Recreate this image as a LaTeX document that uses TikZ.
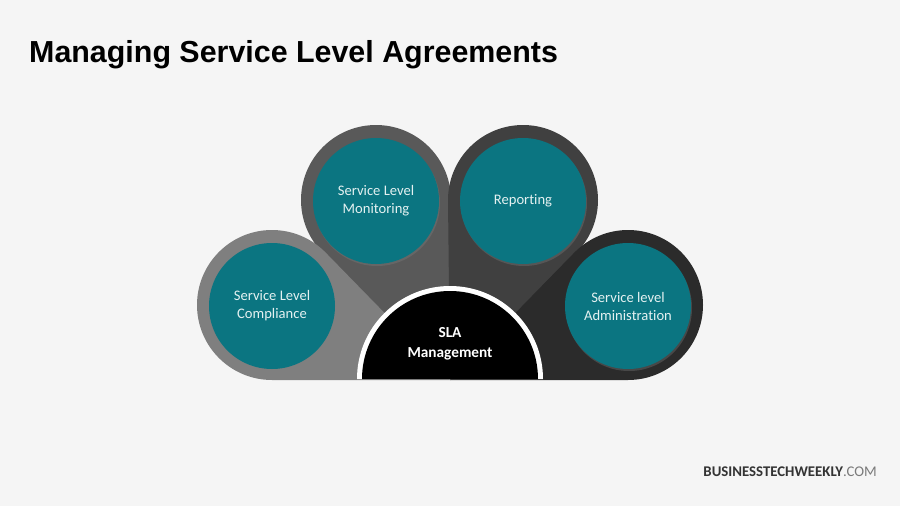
\documentclass[tikz,border=0pt]{standalone}
\usepackage{fontspec}
\setmainfont{Carlito}[RawFeature=-liga]
\newfontfamily\titlefont{Liberation Sans}
\usetikzlibrary{shadows}
\definecolor{bg}{HTML}{F5F5F5}
\definecolor{tealc}{HTML}{0B7581}
\definecolor{ringA}{HTML}{7F7F7F}
\definecolor{ringB}{HTML}{595959}
\definecolor{ringC}{HTML}{404040}
\definecolor{ringD}{HTML}{2B2B2B}
\definecolor{txtc}{HTML}{E4F1F1}
\definecolor{logodark}{HTML}{333333}
\definecolor{logolight}{HTML}{7A7A7A}
\begin{document}
\begin{tikzpicture}[x=1pt,y=-1pt,
  tealdisc/.style={circle, fill=tealc, minimum size=126pt, inner sep=0pt, outer sep=0pt,
    align=center, text=txtc, font=\fontsize{14.6}{18}\selectfont,
    drop shadow={shadow xshift=1pt, shadow yshift=-2pt, opacity=0.35}},
  centertext/.style={align=center, text=white, font=\bfseries\fontsize{15.3}{19.5}\selectfont}]
\fill[bg] (0,0) rectangle (900,506);
\useasboundingbox (0,0) rectangle (900,506);
\coordinate (P) at (450,380);
% outer rings with tails
\fill[ringB] (376,200) ++(135:75) arc[start angle=135,end angle=360.3,radius=75] -- (P) -- cycle;
\fill[ringC] (523,200) ++(44.8:75) arc[start angle=44.8,end angle=-180.7,radius=75] -- (P) -- cycle;
\fill[ringA] (272,305) ++(90:75) arc[start angle=90,end angle=315.7,radius=75] -- (P) -- cycle;
\fill[ringD] (628,305) ++(90:75) arc[start angle=90,end angle=-135.7,radius=75] -- (P) -- cycle;
% teal discs
\node[tealdisc] (mon) at (376,201) {Service Level\\Monitoring};
\node[tealdisc] (rep) at (523,201) {Reporting};
\node[tealdisc] (comp) at (272,306) {Service Level\\Compliance};
\node[tealdisc] (adm) at (628,306) {Service level\\Administration};
% center semicircle
\fill[white] (357,379) arc[start angle=180,end angle=360,radius=93] -- cycle;
\fill[black] (362,379) arc[start angle=180,end angle=360,radius=88] -- cycle;
\node[centertext] (sla) at (450,344) {SLA\\Management};
% title and logo
\node[anchor=base west, inner sep=0pt, font=\titlefont\bfseries\fontsize{30.4}{36}\selectfont] (title) at (29,62) {Managing Service Level Agreements};
\node[anchor=base east, inner sep=0pt, font=\fontsize{14.8}{17}\selectfont] (logo) at (877,476) {\textcolor{logodark}{\bfseries BUSINESSTECHWEEKLY}\textcolor{logolight}{.COM}};
\end{tikzpicture}
\end{document}
